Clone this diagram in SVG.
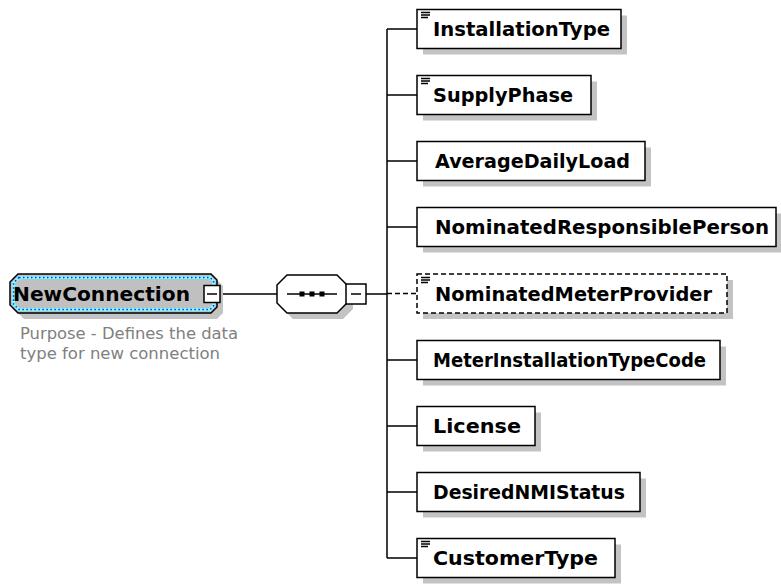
<svg xmlns="http://www.w3.org/2000/svg" width="781" height="584" viewBox="0 0 781 584">
<style>
.shadow{fill:#c3c3c3;stroke:none}
.box{fill:#fff;stroke:#000;stroke-width:1.5}
.dbox{fill:#fff;stroke:#000;stroke-width:1.5;stroke-dasharray:5 3}
.lbl{font-family:"DejaVu Sans",sans-serif;font-weight:bold;font-size:19px;fill:#000}
.icon{stroke:#000;stroke-width:1.3;fill:none}
.conn{stroke:#000;stroke-width:1.5;fill:none}
.dash{stroke-dasharray:5 3}
.note{font-family:"DejaVu Sans",sans-serif;font-size:16px;fill:#808080}
</style>
<defs>
<path id="ico" d="M0 0.5h9M0 3h9M0 5.5h7" class="icon"/>
</defs>
<rect width="781" height="584" fill="#fff"/>

<g id="connectors">
<path class="conn" d="M220 294H277M366 294H387M387 29V558"/>
<path class="conn" d="M387 29H417M387 95H417M387 161H417M387 227H417M387 360H417M387 426H417M387 492H417M387 558H417"/>
<path class="conn dash" d="M387 293.5H417"/>
</g>

<g id="NewConnection">
<polygon class="shadow" points="24,280 217,280 223,286 223,313 217,319 24,319 16,311 16,288"/>
<polygon points="18,274 211,274 217,280 217,307 211,313 18,313 10,305 10,282" fill="#c0c0c0" stroke="#000" stroke-width="1.5"/>
<polygon points="19,277.5 210,277.5 213.5,281 213.5,306 210,309.5 19,309.5 13.5,304 13.5,283" fill="none" stroke="#7ff" stroke-width="3"/>
<polygon points="19,277.5 210,277.5 213.5,281 213.5,306 210,309.5 19,309.5 13.5,304 13.5,283" fill="none" stroke="#22f" stroke-width="1.5" stroke-dasharray="1.5 2.5"/>
<text class="lbl" x="13" y="301" textLength="177" lengthAdjust="spacingAndGlyphs">NewConnection</text>
<rect class="box" x="204" y="285.5" width="16" height="17"/>
<path class="conn" d="M207 294H217"/>
<text class="note" x="20" y="339" textLength="218" lengthAdjust="spacingAndGlyphs">Purpose - Defines the data</text>
<text class="note" x="20" y="359" textLength="200" lengthAdjust="spacingAndGlyphs">type for new connection</text>
</g>

<g id="sequence">
<polygon class="shadow" points="293,281 343,281 353,291 353,309 343,319 293,319 283,309 283,291"/>
<polygon points="287,275 337,275 347,285 347,303 337,313 287,313 277,303 277,285" fill="#fff" stroke="#000" stroke-width="1.5"/>
<path class="conn" d="M287 294H337"/>
<rect x="299.5" y="291.5" width="5" height="5" fill="#000"/>
<rect x="309.5" y="291.5" width="5" height="5" fill="#000"/>
<rect x="319.5" y="291.5" width="5" height="5" fill="#000"/>
<rect class="box" x="346" y="284" width="20" height="20"/>
<path class="conn" d="M351 294H361"/>
</g>

<g id="InstallationType">
<rect class="shadow" x="423" y="15.5" width="204" height="39"/>
<rect class="box" x="417" y="9.5" width="204" height="39"/>
<use href="#ico" x="421" y="12"/>
<text class="lbl" x="433" y="36" textLength="177" lengthAdjust="spacingAndGlyphs">InstallationType</text>
</g>

<g id="SupplyPhase">
<rect class="shadow" x="423" y="81.5" width="174" height="39"/>
<rect class="box" x="417" y="75.5" width="174" height="39"/>
<use href="#ico" x="421" y="78"/>
<text class="lbl" x="433" y="102" textLength="140" lengthAdjust="spacingAndGlyphs">SupplyPhase</text>
</g>

<g id="AverageDailyLoad">
<rect class="shadow" x="423" y="147.5" width="228" height="39"/>
<rect class="box" x="417" y="141.5" width="228" height="39"/>
<text class="lbl" x="435" y="168" textLength="195" lengthAdjust="spacingAndGlyphs">AverageDailyLoad</text>
</g>

<g id="NominatedResponsiblePerson">
<rect class="shadow" x="423" y="213.5" width="359" height="39"/>
<rect class="box" x="417" y="207.5" width="359" height="39"/>
<text class="lbl" x="435" y="234" textLength="334" lengthAdjust="spacingAndGlyphs">NominatedResponsiblePerson</text>
</g>

<g id="NominatedMeterProvider">
<rect class="shadow" x="423" y="280" width="310" height="39"/>
<rect class="dbox" x="417" y="274" width="310" height="39"/>
<use href="#ico" x="421" y="277"/>
<text class="lbl" x="435" y="300.5" textLength="277" lengthAdjust="spacingAndGlyphs">NominatedMeterProvider</text>
</g>

<g id="MeterInstallationTypeCode">
<rect class="shadow" x="423" y="346.5" width="303" height="39"/>
<rect class="box" x="417" y="340.5" width="303" height="39"/>
<text class="lbl" x="433" y="367" textLength="273" lengthAdjust="spacingAndGlyphs">MeterInstallationTypeCode</text>
</g>

<g id="License">
<rect class="shadow" x="423" y="412.5" width="118" height="39"/>
<rect class="box" x="417" y="406.5" width="118" height="39"/>
<text class="lbl" x="433" y="433" textLength="88" lengthAdjust="spacingAndGlyphs">License</text>
</g>

<g id="DesiredNMIStatus">
<rect class="shadow" x="423" y="478.5" width="223" height="39"/>
<rect class="box" x="417" y="472.5" width="223" height="39"/>
<text class="lbl" x="433" y="499" textLength="192" lengthAdjust="spacingAndGlyphs">DesiredNMIStatus</text>
</g>

<g id="CustomerType">
<rect class="shadow" x="423" y="544.5" width="198" height="39"/>
<rect class="box" x="417" y="538.5" width="198" height="39"/>
<use href="#ico" x="421" y="541"/>
<text class="lbl" x="433" y="565" textLength="165" lengthAdjust="spacingAndGlyphs">CustomerType</text>
</g>
</svg>
